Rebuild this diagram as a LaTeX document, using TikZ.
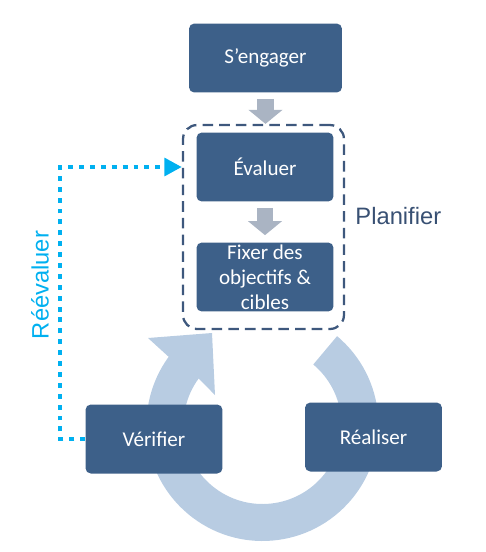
\documentclass[tikz,border=0pt]{standalone}
\usepackage{fontspec}
\setmainfont{Carlito}
\newfontfamily\arialfont{Liberation Sans}
\usepackage{xcolor}
\usetikzlibrary{arrows.meta, calc}

\definecolor{boxblue}{RGB}{61,96,137}
\definecolor{planline}{RGB}{62,88,125}
\definecolor{plantext}{RGB}{56,80,115}
\definecolor{stepgray}{RGB}{170,180,195}
\definecolor{cyclelight}{RGB}{184,204,226}
\definecolor{reevalcyan}{RGB}{0,176,240}

\begin{document}
\begin{tikzpicture}[x=0.02cm, y=0.02cm,
  every node/.style={font=\fontsize{12}{14.2}\selectfont},
  phase/.style={fill=boxblue, text=white, rounded corners=3pt, align=center, inner sep=0pt, minimum width=2.74cm, minimum height=1.38cm},
  planframe/.style={draw=planline, line width=1.3pt, dash pattern=on 6pt off 3.5pt, rounded corners=8pt, minimum width=3.22cm, minimum height=4.08cm},
  sidelabel/.style={font=\arialfont\fontsize{13.5}{16}\selectfont, inner sep=0pt},
  grayarrow/.style={draw=stepgray, line width=9.6pt, -{Triangle[width=19pt, length=8pt]}},
  reevalpath/.style={draw=reevalcyan, line width=2.6pt, dash pattern=on 2.8pt off 3.4pt, -{Triangle[width=10pt, length=10pt]}}]
  \useasboundingbox (0,0) rectangle (486,-552);

  % cycle arrow behind the boxes
  \coordinate (hub) at (262.5,-425);
  \fill[cyclelight] ($(hub)+(50:116)$) arc[start angle=50, end angle=-216, radius=116]
    -- (148,-338) -- (212,-333) -- (215,-395)
    -- ($(hub)+(-216:79)$) arc[start angle=-216, end angle=50, radius=79] -- cycle;

  \node[planframe] (planbox) at (263.5,-227) {};
  \node[phase, minimum width=3.06cm] (engager) at (265.5,-58) {S’engager};
  \node[phase] (evaluer) at (265,-167) {Évaluer};
  \node[phase] (fixer) at (265,-277) {Fixer des\\objectifs \&\\cibles};
  \node[phase] (verifier) at (154,-439) {Vérifier};
  \node[phase] (realiser) at (373.5,-437) {Réaliser};

  \draw[grayarrow] ($(engager.south)+(0,-6)$) -- (engager.south |- planbox.north);
  \draw[grayarrow] ($(evaluer.south)+(0,-6)$) -- ($(fixer.north)+(0,7)$);

  \node[sidelabel, text=plantext, anchor=west] (planifier) at ($(planbox.east)+(10,11)$) {Planifier};
  \node[sidelabel, text=reevalcyan, rotate=90] (reevaluer) at (40,-285) {Réévaluer};

  % re-evaluation loop
  \draw[reevalpath] (verifier.west) -- ++(-25,0) |- (evaluer.west -| planbox.west);
\end{tikzpicture}
\end{document}
